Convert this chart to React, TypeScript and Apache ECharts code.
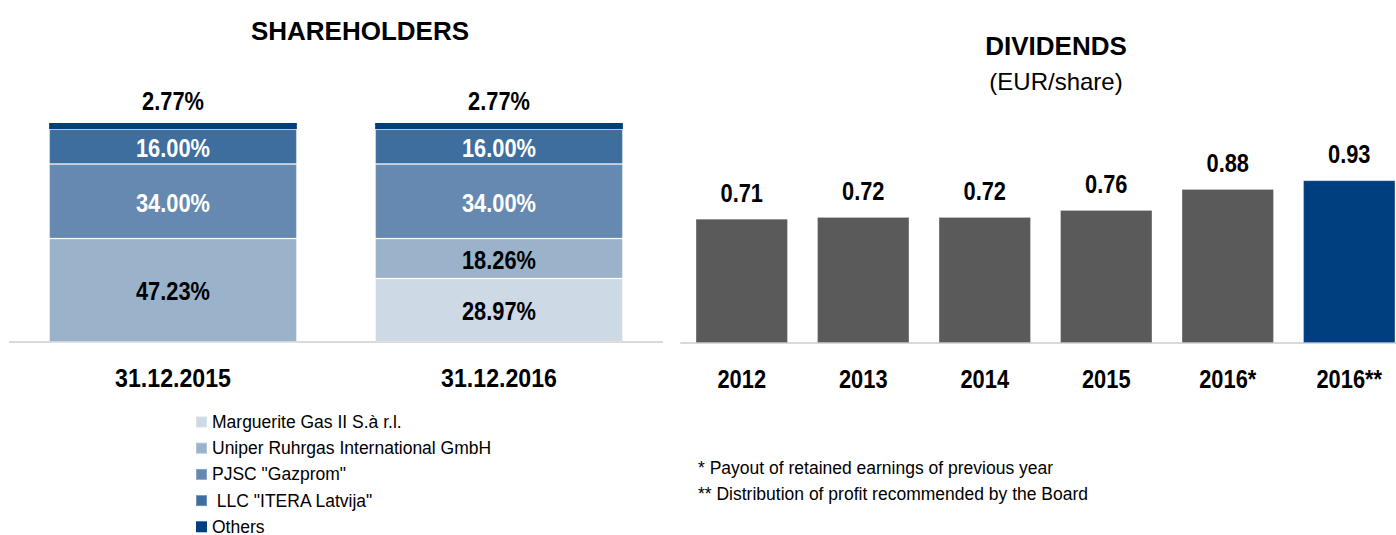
import React, { useEffect, useRef } from "react";
import * as echarts from "echarts";

// ---------- Data ----------
const shareDates = ["31.12.2015", "31.12.2016"];
const shareholderNames = [
  "Marguerite Gas II S.à r.l.",
  "Uniper Ruhrgas International GmbH",
  'PJSC "Gazprom"',
  ' LLC "ITERA Latvija"',
  "Others",
];
const margueriteShares = [0, 28.97];
const uniperShares = [47.23, 18.26];
const gazpromShares = [34.0, 34.0];
const iteraShares = [16.0, 16.0];
const otherShares = [2.77, 2.77];

const dividendYears = ["2012", "2013", "2014", "2015", "2016*", "2016**"];
const dividendValues = [0.71, 0.72, 0.72, 0.76, 0.88, 0.93];

const footnotes = [
  "* Payout of retained earnings of previous year",
  "** Distribution of profit recommended by the Board",
];

// ---------- Styles ----------
const ARIAL = '"Liberation Sans", Arial, sans-serif';
const NARROW_SCALE = 0.84;
const shareColors = ["#cdd9e5", "#9ab3cb", "#6589b0", "#3e6e9d", "#003f7f"];
const labelColors = ["#000", "#000", "#fff", "#fff", "#000"];
const GRAY = "#5a5a5a";
const BLUE = "#003f7f";

export default function App() {
  const ref = useRef<HTMLDivElement>(null);

  useEffect(() => {
    if (!ref.current) return;
    const chart = echarts.init(ref.current, undefined, { renderer: "svg" });
    const shareSeriesData = [margueriteShares, uniperShares, gazpromShares, iteraShares, otherShares];

    const shareSeries = shareSeriesData.map((d, i) => ({
      name: shareholderNames[i],
      type: "bar",
      stack: "share",
      xAxisIndex: 0,
      yAxisIndex: 0,
      barCategoryGap: "24%",
      data: d,
      itemStyle: { color: shareColors[i], borderColor: "rgba(255,255,255,0.25)", borderWidth: i === 4 ? 0 : 1 },
    }));

    chart.setOption({
      animation: false,
      backgroundColor: "#fff",
      grid: [
        { left: 10, width: 652, top: 123, height: 219, containLabel: false },
        { left: 681, width: 729, top: 168, height: 175, containLabel: false },
      ],
      xAxis: [
        {
          type: "category",
          gridIndex: 0,
          data: shareDates,
          axisLine: { lineStyle: { color: "#d9d9d9", width: 2 } },
          axisTick: { show: false },
          axisLabel: { show: false },
        },
        {
          type: "category",
          gridIndex: 1,
          data: dividendYears,
          axisLine: { lineStyle: { color: "#d9d9d9", width: 2 } },
          axisTick: { show: false },
          axisLabel: { show: false },
        },
      ],
      yAxis: [
        { type: "value", gridIndex: 0, min: 0, max: 100, show: false },
        { type: "value", gridIndex: 1, min: 0, max: 1, show: false },
      ],
      legend: {
        orient: "vertical",
        left: 195,
        top: 413,
        padding: 0,
        itemWidth: 11,
        itemHeight: 11,
        itemGap: 8.2,
        icon: "rect",
        data: shareholderNames,
        textStyle: { color: "#000", fontFamily: ARIAL, fontSize: 17.5 },
        selectedMode: false,
      },
      series: [
        ...shareSeries,
        {
          name: "Dividends",
          type: "bar",
          xAxisIndex: 1,
          yAxisIndex: 1,
          barCategoryGap: "24%",
          data: dividendValues,
          itemStyle: {
            color: (p: any) => (p.dataIndex === dividendValues.length - 1 ? BLUE : GRAY),
            borderColor: "rgba(255,255,255,0.2)",
            borderWidth: 1,
          },
        },
      ],
    });

    // Narrow bold labels (Arial Narrow look) placed through the chart's own scales
    const narrow = (text: string, x: number, y: number, fill: string, sx = NARROW_SCALE) => ({
      type: "text",
      x,
      y,
      scaleX: sx,
      silent: true,
      z: 100,
      style: {
        text,
        fontFamily: ARIAL,
        fontWeight: "bold",
        fontSize: 26,
        fill,
        textAlign: "center",
        textVerticalAlign: "middle",
      },
    });

    const labels: any[] = [];
    shareDates.forEach((cat, ci) => {
      let base = 0;
      shareSeriesData.forEach((d, si) => {
        const v = d[ci];
        const top = base + v;
        if (v > 0) {
          if (si === shareSeriesData.length - 1) {
            const p = chart.convertToPixel({ gridIndex: 0 }, [ci, top]) as number[];
            labels.push(narrow(v.toFixed(2) + "%", p[0], p[1] - 22, labelColors[si]));
          } else {
            const p = chart.convertToPixel({ gridIndex: 0 }, [ci, base + v / 2]) as number[];
            labels.push(narrow(v.toFixed(2) + "%", p[0], p[1] + 1, labelColors[si]));
          }
        }
        base = top;
      });
      const b = chart.convertToPixel({ gridIndex: 0 }, [ci, 0]) as number[];
      labels.push(narrow(cat, b[0], b[1] + 36, "#000", 0.89));
    });
    dividendYears.forEach((cat, ci) => {
      const p = chart.convertToPixel({ gridIndex: 1 }, [ci, dividendValues[ci]]) as number[];
      labels.push(narrow(dividendValues[ci].toFixed(2), p[0], p[1] - 26, "#000"));
      const b = chart.convertToPixel({ gridIndex: 1 }, [ci, 0]) as number[];
      labels.push(narrow(cat, b[0], b[1] + 36, "#000"));
    });

    chart.setOption({
      graphic: [
        {
          type: "text",
          x: 360,
          y: 31,
          style: { text: "SHAREHOLDERS", fontFamily: ARIAL, fontWeight: "bold", fontSize: 26, fill: "#000", textAlign: "center", textVerticalAlign: "middle" },
        },
        {
          type: "text",
          x: 1056,
          y: 46,
          style: { text: "DIVIDENDS", fontFamily: ARIAL, fontWeight: "bold", fontSize: 26, fill: "#000", textAlign: "center", textVerticalAlign: "middle" },
        },
        {
          type: "text",
          x: 1056,
          y: 81,
          style: { text: "(EUR/share)", fontFamily: ARIAL, fontSize: 24, fill: "#000", textAlign: "center", textVerticalAlign: "middle" },
        },
        ...footnotes.map((t, i) => ({
          type: "text",
          x: 698,
          y: 468 + i * 26,
          style: { text: t, fontFamily: ARIAL, fontSize: 17.5, fill: "#000", textAlign: "left", textVerticalAlign: "middle" },
        })),
        ...labels,
      ],
    });

    return () => chart.dispose();
  }, []);

  return (
    <div style={{ position: "absolute", left: 0, top: 0, width: 1396, height: 535, overflow: "hidden", background: "#fff" }}>
      <div ref={ref} style={{ position: "absolute", left: 0, top: 0, width: 1420, height: 580 }} />
    </div>
  );
}
